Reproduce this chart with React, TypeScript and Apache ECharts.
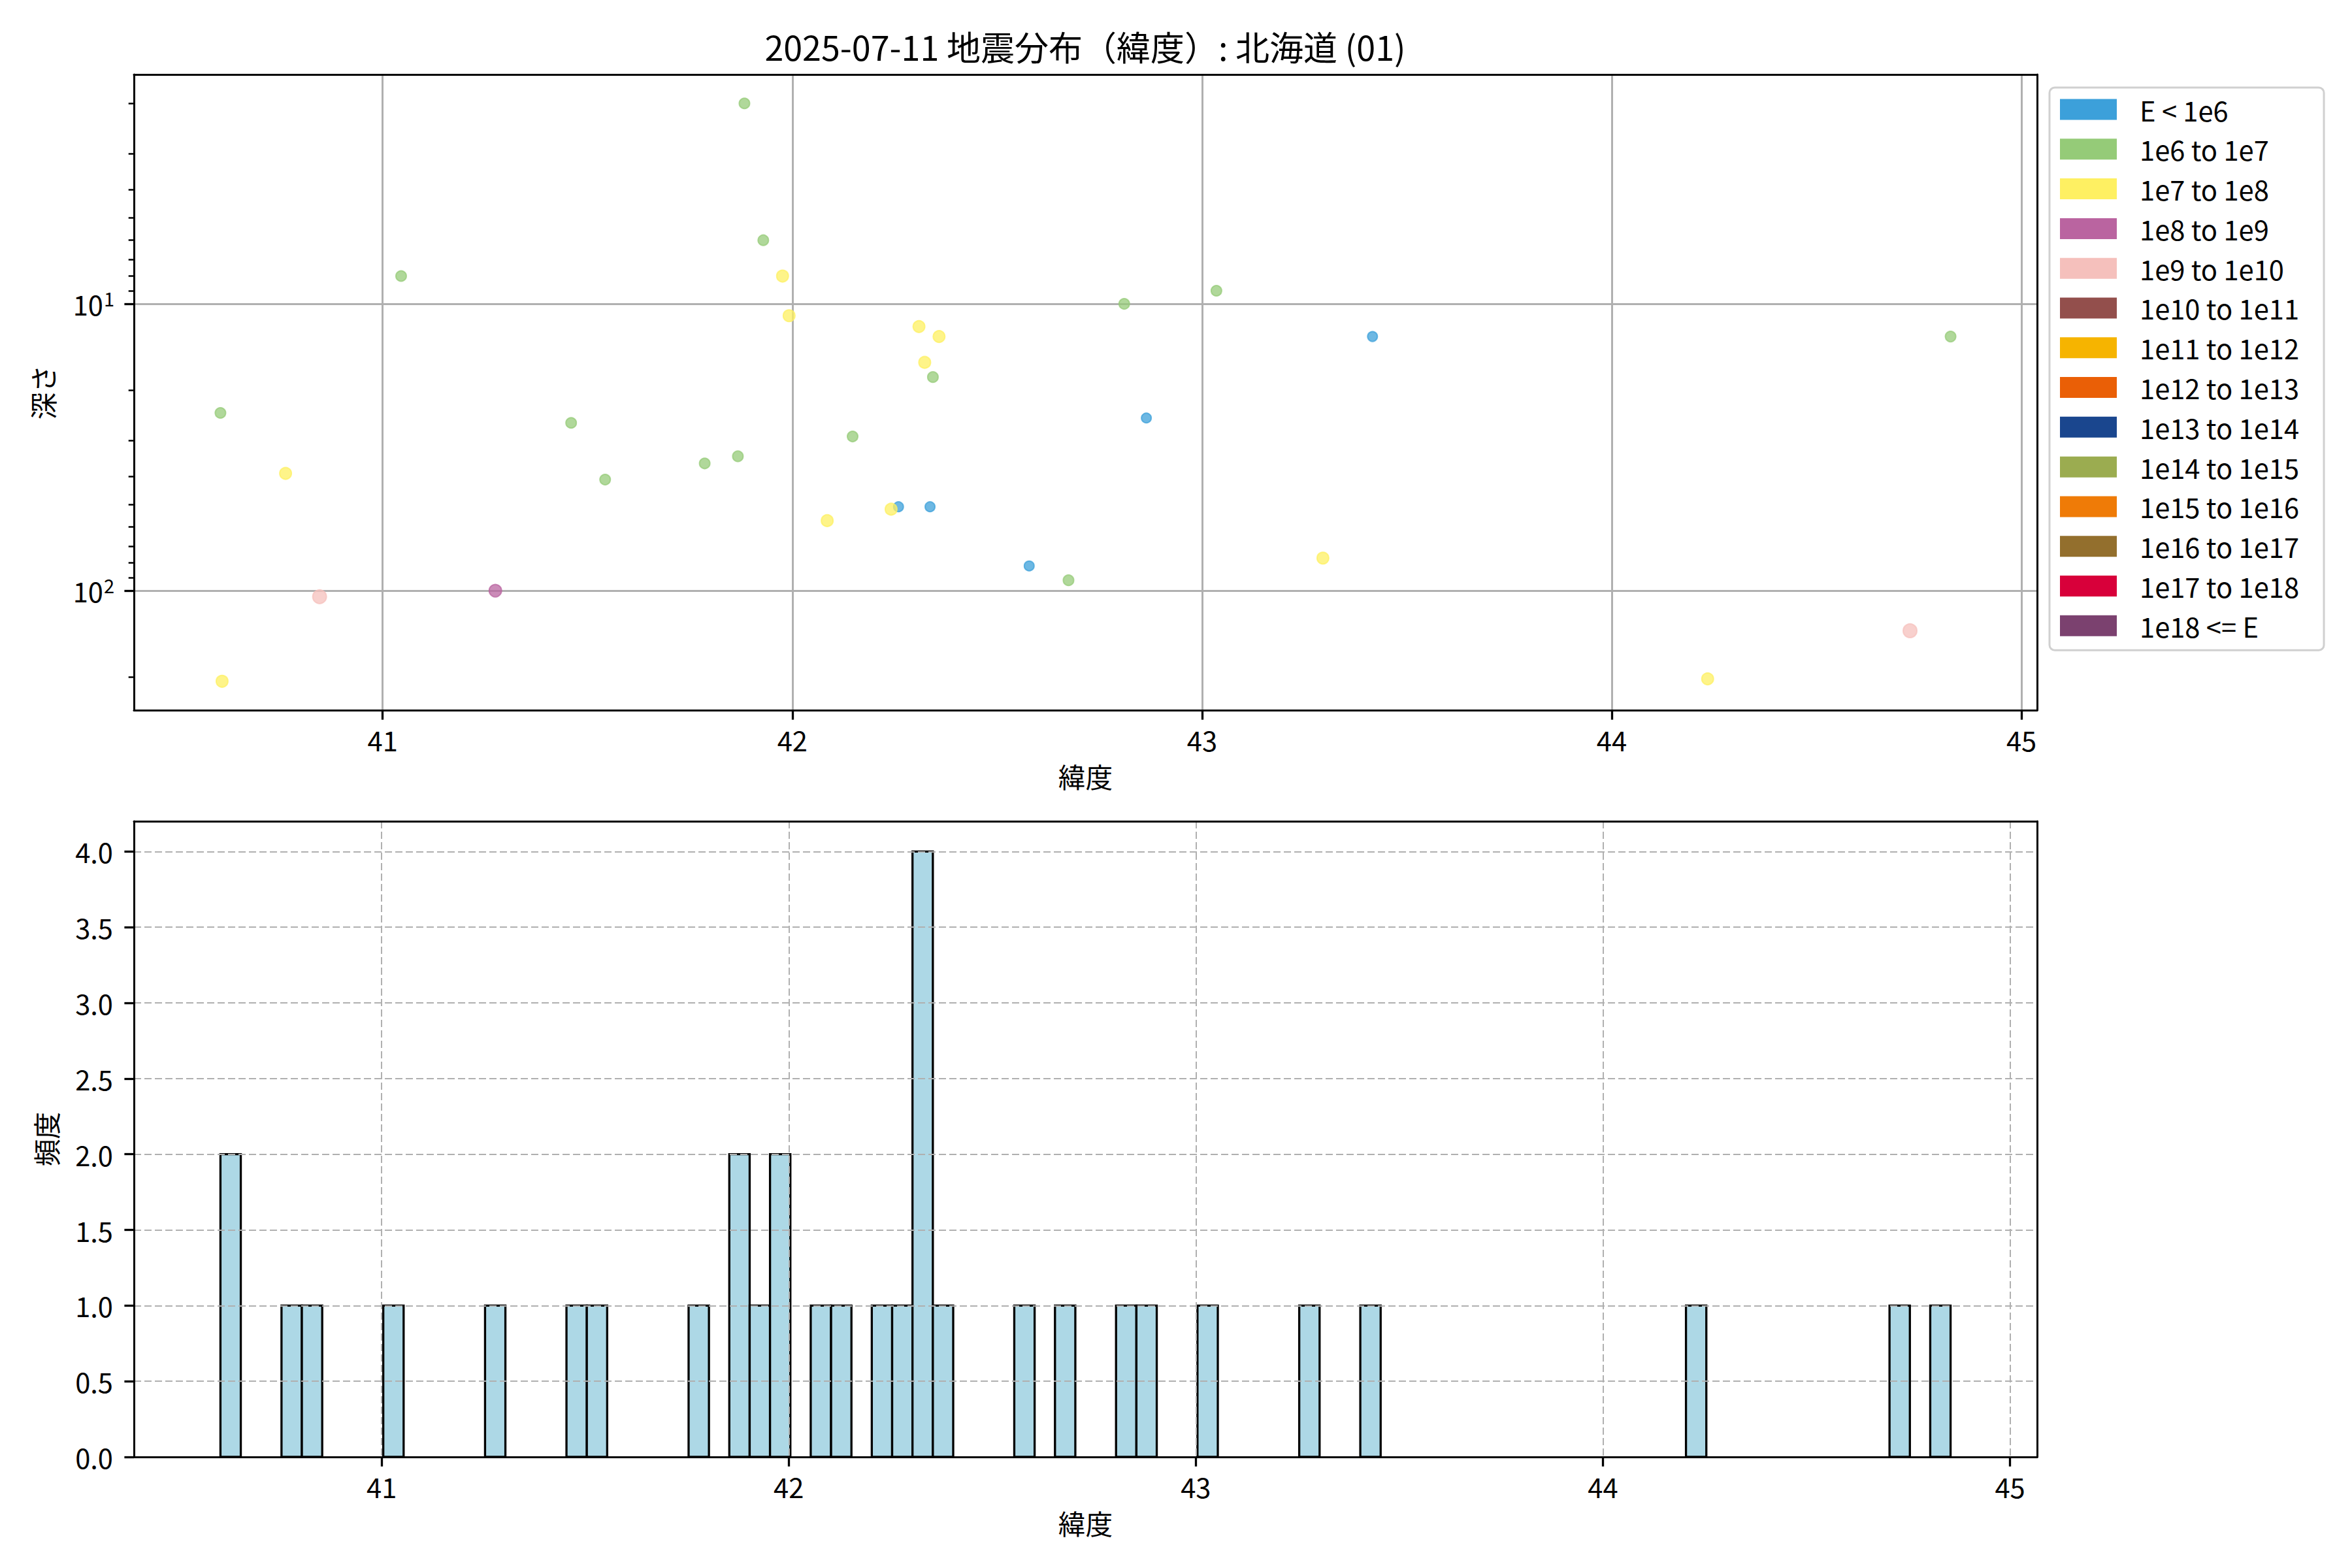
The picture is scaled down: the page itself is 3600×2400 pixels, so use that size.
import React, { useEffect, useRef } from "react";
import * as echarts from "echarts";

const TITLE = "2025-07-11 地震分布（緯度）: 北海道 (01)";
const X_NAME = "緯度";
const Y_NAME_TOP = "深さ";
const Y_NAME_BOTTOM = "頻度";

const CLASS_NAMES = [
  "E < 1e6", "1e6 to 1e7", "1e7 to 1e8", "1e8 to 1e9", "1e9 to 1e10",
  "1e10 to 1e11", "1e11 to 1e12", "1e12 to 1e13", "1e13 to 1e14", "1e14 to 1e15",
  "1e15 to 1e16", "1e16 to 1e17", "1e17 to 1e18", "1e18 <= E",
];
const CLASS_COLORS = [
  "#3ca0da", "#95cb78", "#fef062", "#ba64a0", "#f5c0bc",
  "#934f4c", "#f6b400", "#ea5f06", "#1a468e", "#9bac50",
  "#ef7b07", "#936f2d", "#d8003a", "#7b416f",
];
const CLASS_SIZES = [15, 16, 18, 19, 21, 22, 23, 24, 25, 26, 27, 28, 29, 30];

// one entry per earthquake
const LATITUDES = [
  41.883, 41.929, 41.976, 41.045, 41.992, 40.604, 41.46, 41.543, 41.786, 41.867,
  40.763, 42.085, 40.846, 41.275, 40.608, 42.309, 42.358, 42.323, 42.343, 42.81,
  43.035, 43.416, 42.864, 42.147, 42.259, 42.241, 42.336, 42.578, 42.674, 43.295,
  44.827, 44.728, 44.234,
];
const DEPTHS = [
  2.0, 6, 8, 8, 11, 24, 26, 41, 36, 34,
  39, 57, 105, 100, 207, 12, 13, 16, 18, 10,
  9, 13, 25, 29, 51, 52, 51, 82, 92, 77,
  13, 138, 203,
];
const CLASSES = [
  1, 1, 2, 1, 2, 1, 1, 1, 1, 1,
  2, 2, 4, 3, 2, 2, 2, 2, 1, 1,
  1, 0, 0, 1, 0, 2, 0, 0, 1, 2,
  1, 4, 2,
];

const BIN_WIDTH = 0.05;
const X_TICKS = [41, 42, 43, 44, 45];
const DEPTH_MAJOR_TICKS = [10, 100];
const DEPTH_MINOR_TICKS = [2, 3, 4, 5, 6, 7, 8, 9, 20, 30, 40, 50, 60, 70, 80, 90, 200];
const COUNT_INTERVAL = 0.5;

const FONT = "Noto Sans CJK JP";
const FS = 41.7;

function rgba(hex: string, a: number) {
  const n = parseInt(hex.slice(1), 16);
  return `rgba(${(n >> 16) & 255},${(n >> 8) & 255},${n & 255},${a})`;
}

export default function App() {
  const ref = useRef<HTMLDivElement>(null);
  useEffect(() => {
    document.body.style.margin = "0";
    if (!ref.current) return;
    const chart = echarts.init(ref.current, undefined, { renderer: "svg" });

    const latMin = Math.min(...LATITUDES);
    const latMax = Math.max(...LATITUDES);
    const latSpan = latMax - latMin;
    const sxMin = latMin - 0.05 * latSpan;
    const sxMax = latMax + 0.05 * latSpan;

    const lgMin = Math.log10(Math.min(...DEPTHS));
    const lgMax = Math.log10(Math.max(...DEPTHS));
    const lgSpan = lgMax - lgMin;
    const dMin = Math.pow(10, lgMin - 0.05 * lgSpan);
    const dMax = Math.pow(10, lgMax + 0.05 * lgSpan);

    const nEdges = Math.ceil((latMax - latMin) / BIN_WIDTH + 1);
    const nBins = nEdges - 1;
    const counts = new Array(nBins).fill(0);
    LATITUDES.forEach((v) => {
      const k = Math.min(Math.floor((v - latMin) / BIN_WIDTH), nBins - 1);
      counts[k] += 1;
    });
    const histData: number[][] = [];
    counts.forEach((c, k) => {
      if (c > 0) histData.push([latMin + k * BIN_WIDTH, latMin + (k + 1) * BIN_WIDTH, c]);
    });
    const edgeRange = nBins * BIN_WIDTH;
    const hxMin = latMin - 0.05 * edgeRange;
    const hxMax = latMin + edgeRange + 0.05 * edgeRange;
    const cMax = Math.max(...counts) * 1.05;

    const tickLabel = { color: "#000", fontFamily: FONT, fontSize: FS };
    const nameStyle = { color: "#000", fontFamily: FONT, fontSize: FS };
    const blackLine = { show: true, onZero: false, lineStyle: { color: "#000", width: 3 } };
    const majorTick = { show: true, length: 14.6, lineStyle: { color: "#000", width: 3.3 } };

    const frameAxis = (gridIndex: number, position: string) => ({
      type: "value",
      gridIndex,
      position,
      min: 0,
      max: 1,
      z: 8,
      axisLine: blackLine,
      axisTick: { show: false },
      axisLabel: { show: false },
      splitLine: { show: false },
    });

    const scatterSeries = CLASS_NAMES.map((name, c) => {
      const data: number[][] = [];
      LATITUDES.forEach((lat, i) => {
        if (CLASSES[i] === c) data.push([lat, DEPTHS[i]]);
      });
      return {
        type: "scatter",
        name,
        xAxisIndex: 0,
        yAxisIndex: 0,
        data,
        symbol: "circle",
        symbolSize: CLASS_SIZES[c],
        itemStyle: {
          color: rgba(CLASS_COLORS[c], 0.75),
          borderColor: rgba(CLASS_COLORS[c], 0.75),
          borderWidth: 2,
          opacity: 1,
        },
        z: 3,
      };
    });

    const option: any = {
      animation: false,
      backgroundColor: "#fff",
      textStyle: { fontFamily: FONT },
      title: {
        text: TITLE,
        left: 1661,
        top: 44,
        padding: 0,
        textAlign: "center",
        textStyle: { color: "#000", fontFamily: FONT, fontSize: 52, fontWeight: "normal" },
      },
      legend: {
        orient: "vertical",
        left: 3137,
        top: 134,
        padding: [12.7, 38, 16.6, 16],
        itemWidth: 87,
        itemHeight: 32,
        itemGap: 19.1,
        backgroundColor: "#fff",
        borderColor: "#d0d0d0",
        borderWidth: 3,
        borderRadius: 8,
        icon: "rect",
        selectedMode: false,
        textStyle: {
          color: "#000",
          fontFamily: FONT,
          fontSize: FS,
          padding: [0, 0, 0, 30],
        },
        data: CLASS_NAMES.map((name, c) => ({
          name,
          icon: "rect",
          itemStyle: { color: CLASS_COLORS[c], borderWidth: 0, opacity: 1 },
        })),
      },
      grid: [
        { left: 205, top: 114, width: 2913, height: 973 },
        { left: 205, top: 1257, width: 2913, height: 973 },
      ],
      xAxis: [
        {
          type: "value",
          gridIndex: 0,
          position: "bottom",
          min: sxMin,
          max: sxMax,
          name: X_NAME,
          nameLocation: "middle",
          nameGap: 80,
          nameTextStyle: nameStyle,
          axisLine: blackLine,
          axisTick: { ...majorTick, customValues: X_TICKS },
          axisLabel: { ...tickLabel, margin: 24, customValues: X_TICKS, formatter: (v: number) => String(v) },
          splitLine: { show: true, lineStyle: { color: "#b0b0b0", width: 3, type: "solid" } },
        },
        frameAxis(0, "top"),
        {
          type: "value",
          gridIndex: 1,
          position: "bottom",
          min: hxMin,
          max: hxMax,
          name: X_NAME,
          nameLocation: "middle",
          nameGap: 80,
          nameTextStyle: nameStyle,
          z: 5,
          axisLine: blackLine,
          axisTick: { ...majorTick, customValues: X_TICKS },
          axisLabel: { ...tickLabel, margin: 24, customValues: X_TICKS, formatter: (v: number) => String(v) },
          splitLine: { show: true, lineStyle: { color: "#b0b0b0", width: 2, type: [11, 5] } },
        },
        frameAxis(1, "top"),
      ],
      yAxis: [
        {
          type: "log",
          logBase: 10,
          gridIndex: 0,
          position: "left",
          inverse: true,
          min: dMin,
          max: dMax,
          name: Y_NAME_TOP,
          nameLocation: "middle",
          nameGap: 119,
          nameRotate: 90,
          nameTextStyle: nameStyle,
          axisLine: blackLine,
          axisTick: { ...majorTick, customValues: DEPTH_MAJOR_TICKS },
          axisLabel: {
            ...tickLabel,
            margin: 30,
            customValues: DEPTH_MAJOR_TICKS,
            formatter: (v: number) => `{b|10}{s|${Math.round(Math.log10(v))}}`,
            rich: {
              b: { color: "#000", fontFamily: FONT, fontSize: FS },
              s: { color: "#000", fontFamily: FONT, fontSize: 29, padding: [0, 0, 18, 1] },
            },
          },
          splitLine: { show: true, lineStyle: { color: "#b0b0b0", width: 3, type: "solid" } },
        },
        {
          type: "log",
          logBase: 10,
          gridIndex: 0,
          position: "left",
          inverse: true,
          min: dMin,
          max: dMax,
          axisLine: { show: false, onZero: false },
          axisTick: { show: true, length: 8.3, lineStyle: { color: "#000", width: 2.5 }, customValues: DEPTH_MINOR_TICKS },
          axisLabel: { show: false },
          splitLine: { show: false },
        },
        frameAxis(0, "right"),
        {
          type: "value",
          gridIndex: 1,
          position: "left",
          min: 0,
          max: cMax,
          interval: COUNT_INTERVAL,
          name: Y_NAME_BOTTOM,
          nameLocation: "middle",
          nameGap: 114,
          nameRotate: 90,
          nameTextStyle: nameStyle,
          z: 5,
          axisLine: blackLine,
          axisTick: majorTick,
          axisLabel: {
            ...tickLabel,
            margin: 32,
            showMaxLabel: false,
            formatter: (v: number) => v.toFixed(1),
          },
          splitLine: { show: true, lineStyle: { color: "#b0b0b0", width: 2, type: [11, 5] } },
        },
        frameAxis(1, "right"),
      ],
      series: [
        ...scatterSeries,
        {
          type: "custom",
          name: "hist",
          xAxisIndex: 2,
          yAxisIndex: 3,
          data: histData,
          encode: { x: [0, 1], y: 2 },
          z: 2,
          renderItem: (_params: any, api: any) => {
            const p0 = api.coord([api.value(0), api.value(2)]);
            const p1 = api.coord([api.value(1), 0]);
            return {
              type: "rect",
              shape: { x: p0[0], y: p0[1], width: p1[0] - p0[0], height: p1[1] - p0[1] },
              style: { fill: "#add8e6", stroke: "#000", lineWidth: 3.3 },
            };
          },
        },
      ],
    };

    chart.setOption(option);
    return () => chart.dispose();
  }, []);
  return <div ref={ref} style={{ width: 3600, height: 2400 }} />;
}
